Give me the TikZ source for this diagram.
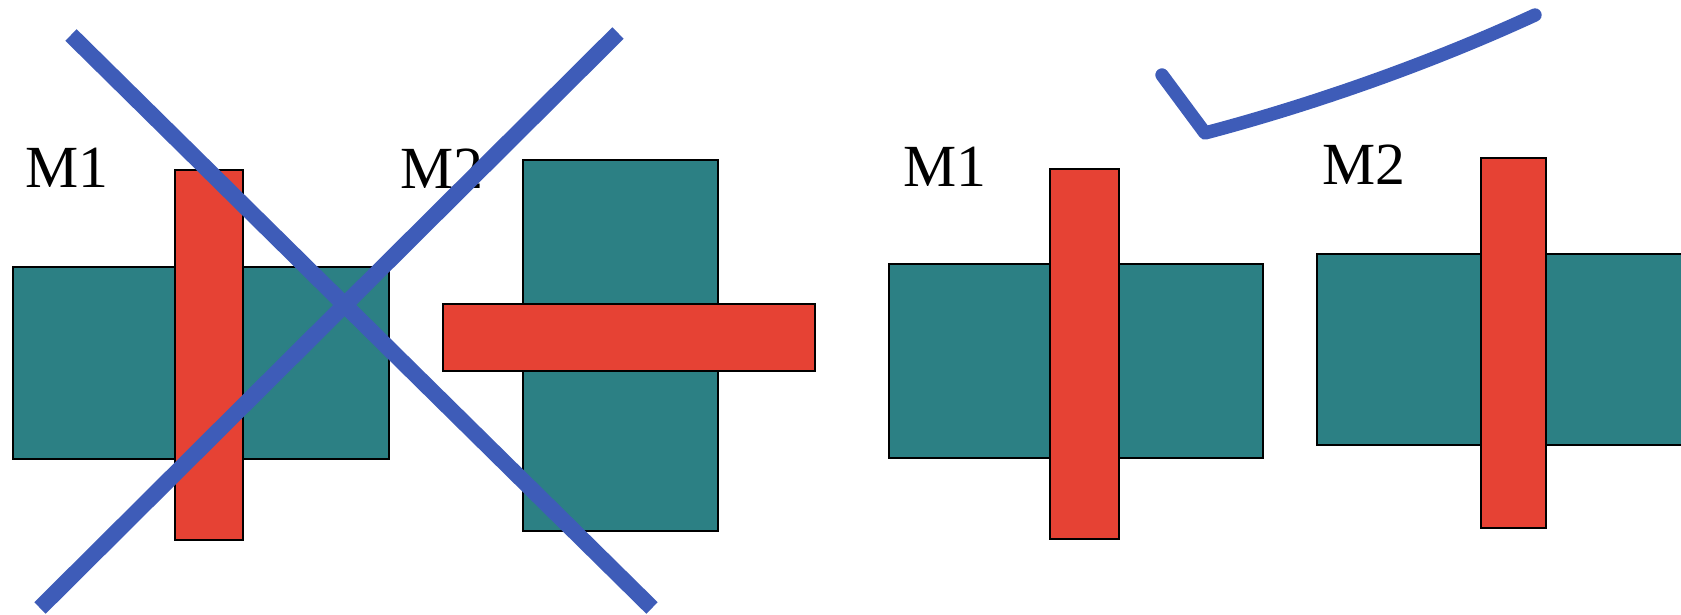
\documentclass[tikz,border=0pt]{standalone}
\usepackage{fontspec}
\setmainfont{Liberation Serif}
\usepackage{xcolor}
\usepackage{tikz}
\usetikzlibrary{positioning}
\definecolor{diffteal}{RGB}{44,128,132}
\definecolor{polyred}{RGB}{230,66,52}
\definecolor{penblue}{RGB}{62,92,184}
\tikzset{
    diff/.style={fill=diffteal, draw=black, line width=0.5pt},
    poly/.style={fill=polyred, draw=black, line width=0.5pt},
    devname/.style={anchor=base west, inner sep=0pt, font=\fontsize{17}{20}\selectfont},
    pen/.style={draw=penblue, line width=4.6pt},
}
\begin{document}
\begin{tikzpicture}[x=0.01cm, y=-0.01cm]
    \useasboundingbox (0,0) rectangle (1681,615);
    \clip (0,0) rectangle (1681,615);
    % wrong layout
    \node[devname] (m1a) at (25,187) {M1};
    \node[devname] (m2a) at (400,188) {M2};
    \draw[diff] (13,267) rectangle (389,459);
    \draw[poly] (175,170) rectangle (243,540);
    \draw[diff] (523,160) rectangle (718,531);
    \draw[poly] (443,304) rectangle (815,371);
    \coordinate (xa) at (71,35);
    \coordinate (xb) at (652,608);
    \coordinate (xc) at (618,33);
    \coordinate (xd) at (40,608);
    \draw[pen] (xa) -- (xb);
    \draw[pen] (xc) -- (xd);
    % right layout
    \node[devname] (m1b) at (903,186) {M1};
    \node[devname] (m2b) at (1322,184) {M2};
    \draw[diff] (889,264) rectangle (1263,458);
    \draw[poly] (1050,169) rectangle (1119,539);
    \draw[diff] (1317,254) rectangle (1700,445);
    \draw[poly] (1481,158) rectangle (1546,528);
    % tick
    \coordinate (ta) at (1162,75);
    \coordinate (tb) at (1205,133);
    \coordinate (tc) at (1535,15);
    \draw[pen, line width=3.8pt, line cap=round, line join=round]
        (ta) -- (tb) .. controls (1300,108) and (1420,68) .. (tc);
\end{tikzpicture}
\end{document}
